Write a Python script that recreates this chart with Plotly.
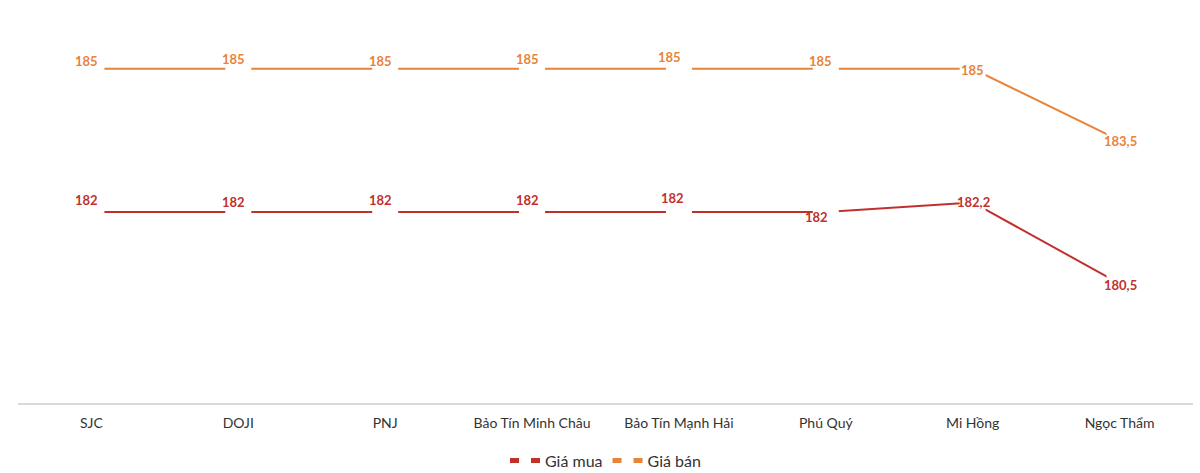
import plotly.graph_objects as go

categories = ["SJC", "DOJI", "PNJ", "Bảo Tín Minh Châu", "Bảo Tín Mạnh Hải",
              "Phú Quý", "Mi Hồng", "Ngọc Thẩm"]
gia_mua = [182, 182, 182, 182, 182, 182, 182.2, 180.5]
gia_ban = [185, 185, 185, 185, 185, 185, 185, 183.5]

RED = "#C0312B"
ORANGE = "#E8833A"

# label pixel offsets (x, y) relative to each point
mua_shift = [(-5, 12), (-5, 10), (-5, 12), (-5, 12), (-6, 14), (-9, -5), (1, 0), (1, -1)]
ban_shift = [(-5, 8), (-5, 10), (-5, 8), (-5, 10), (-9, 12), (-5, 8), (0, -1), (1, -1)]


def fmt(v):
    s = f"{v:g}"
    return s.replace(".", ",")


fig = go.Figure()
for name, vals, color in [("Giá mua", gia_mua, RED), ("Giá bán", gia_ban, ORANGE)]:
    fig.add_trace(go.Scatter(
        x=categories, y=vals, name=name, mode="lines+markers",
        line=dict(color=color, width=2),
        marker=dict(symbol="square", size=26, color="white", line=dict(width=0)),
        hoverinfo="skip",
    ))

annotations = []
for vals, shifts, color in [(gia_mua, mua_shift, RED), (gia_ban, ban_shift, ORANGE)]:
    for c, v, (dx, dy) in zip(categories, vals, shifts):
        annotations.append(dict(
            x=c, y=v, xref="x", yref="y", text=fmt(v), showarrow=False,
            xshift=dx, yshift=dy,
            font=dict(family="Lato", size=13, color=color, weight="bold"),
        ))

fig.update_layout(
    width=1200, height=473,
    margin=dict(l=18, r=7, t=21, b=70, autoexpand=False),
    paper_bgcolor="white", plot_bgcolor="white",
    font=dict(family="Lato", color="#333333"),
    annotations=annotations,
    showlegend=True,
    legend=dict(orientation="h", x=0.5, xanchor="center", y=-0.151, yanchor="middle",
                font=dict(family="Lato", size=16, color="#333333"),
                itemsizing="constant", traceorder="normal"),
    xaxis=dict(
        type="category", range=[-0.5, 7.5],
        showgrid=False, zeroline=False,
        showline=True, linecolor="#D9D9D9", linewidth=1.5,
        ticks="", ticklabelstandoff=6,
        tickfont=dict(family="Lato", size=14, color="#333333"),
    ),
    yaxis=dict(range=[178, 186], visible=False, showgrid=False, zeroline=False),
)

fig.write_html(
    "out.html",
    config={"displayModeBar": False},
    post_script="document.body.style.margin='0';document.body.style.overflow='hidden';"
                "document.documentElement.style.overflow='hidden';",
)
